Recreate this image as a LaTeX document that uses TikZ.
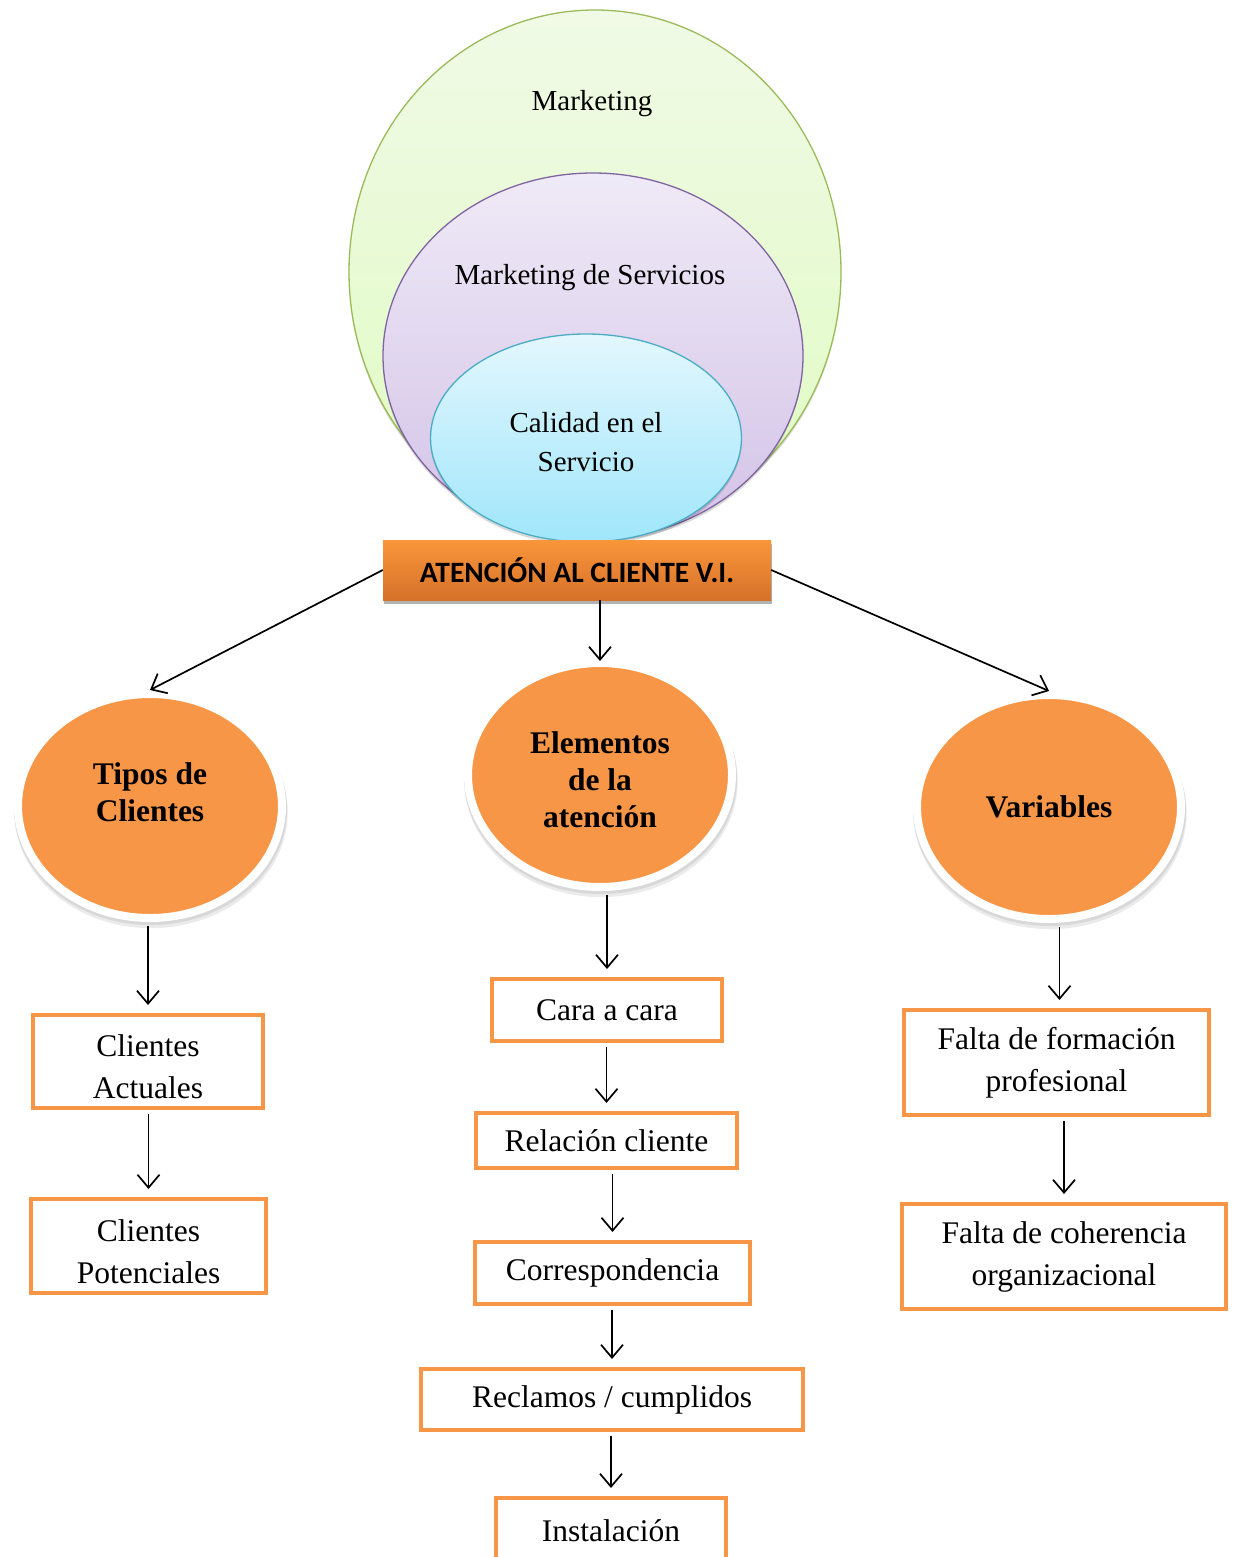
\documentclass[tikz,border=0pt]{standalone}
\usepackage{fontspec}
\setmainfont{Liberation Serif}
\newfontfamily\barfont{Carlito}
\usetikzlibrary{arrows.meta,shapes.geometric,shadows}

\definecolor{accent}{HTML}{F79646}
\definecolor{grnline}{HTML}{9BBB59}
\definecolor{grntop}{HTML}{F0FAE6}
\definecolor{grnbot}{HTML}{E0FBC2}
\definecolor{purline}{HTML}{8064A2}
\definecolor{purtop}{HTML}{EFEAF7}
\definecolor{purbot}{HTML}{D3C2E7}
\definecolor{cyaline}{HTML}{4BACC6}
\definecolor{cyatop}{HTML}{E3F7FD}
\definecolor{cyabot}{HTML}{A0E6FB}
\definecolor{bartop}{HTML}{F9963A}
\definecolor{barbot}{HTML}{D6712A}

\begin{document}
\begin{tikzpicture}[x=1pt,y=-1pt,
  arr/.style={line width=1.7pt,
    -{Straight Barb[length=13pt,width=22pt,line width=1.7pt]},
    shorten <=4pt, shorten >=8pt},
  box/.style={draw=accent, line width=4pt, fill=white, inner sep=0pt,
    align=center, font=\fontsize{31.5}{42}\selectfont},
  bubble/.style={ellipse, draw=white, line width=8pt, fill=accent,
    minimum width=264pt, minimum height=224pt, inner sep=0pt,
    align=center, font=\fontsize{31.5}{37}\selectfont\bfseries,
    double copy shadow={shadow scale=1.035, shadow xshift=0.5pt, shadow yshift=-3pt,
      opacity=0.08, fill=black, draw=none}},
  ring/.style={ellipse, inner sep=0pt, line width=1.3pt,
    drop shadow={shadow xshift=0pt, shadow yshift=-3pt, opacity=0.15, fill=black}},
  toptext/.style={font=\fontsize{29}{39}\selectfont, align=center, inner sep=0pt}]

\useasboundingbox (0,0) rectangle (1237,1557);
\clip (0,0) rectangle (1237,1557);
\fill[white] (0,0) rectangle (1237,1557);

% nested concept ellipses
\node[ring, draw=grnline, top color=grntop, bottom color=grnbot,
  minimum width=492pt, minimum height=524pt] (mkt) at (595,272) {};
\node[ring, draw=purline, top color=purtop, bottom color=purbot,
  minimum width=420pt, minimum height=366pt] (mks) at (593,356) {};
\node[ring, draw=cyaline, top color=cyatop, bottom color=cyabot,
  minimum width=311pt, minimum height=208pt, toptext, text height=67pt,
  text depth=0pt] (cal) at (586,438) {Calidad en el\\Servicio};
\node[toptext] (tmkt) at (592,104) {Marketing};
\node[toptext] (tmks) at (590,278) {Marketing de Servicios};

% central banner
\node[top color=bartop, bottom color=barbot, minimum width=388pt,
  minimum height=60pt, inner sep=0pt,
  font=\barfont\bfseries\fontsize{29.5}{34}\selectfont,
  drop shadow={shadow xshift=1pt, shadow yshift=-4pt, opacity=0.3, fill=black}]
  (bar) at (577,570) {ATENCIÓN AL CLIENTE V.I.};

% three branches
\node[bubble, text height=104pt, text depth=0pt] (tip) at (150,806) {Tipos de\\Clientes\\\mbox{}};
\node[bubble, text height=104pt, text depth=0pt] (ele) at (600,775) {Elementos\\de la\\atención};
\node[bubble] (var) at (1049,807) {Variables};

% leaf boxes
\node[box, minimum width=230pt, minimum height=93pt, text height=74pt, text depth=0pt]
  (ca) at (148,1061.5) {Clientes\\Actuales};
\node[box, minimum width=235pt, minimum height=94pt, text height=74pt, text depth=0pt]
  (cp) at (148.5,1246) {Clientes\\Potenciales};

\node[box, minimum width=230pt, minimum height=62pt] (cara) at (607,1010) {Cara a cara};
\node[box, minimum width=261pt, minimum height=55pt] (rel) at (606.5,1140.5) {Relación cliente};
\node[box, minimum width=275pt, minimum height=62pt] (corr) at (612.5,1273) {Correspondencia};
\node[box, minimum width=382pt, minimum height=61pt] (recl) at (612,1399.5) {Reclamos / cumplidos};
\node[box, minimum width=230pt, minimum height=66pt] (inst) at (611,1531) {Instalación};

\node[box, minimum width=305pt, minimum height=105pt] (ff) at (1056.5,1062.5) {Falta de formación\\profesional};
\node[box, minimum width=324pt, minimum height=105pt] (fc) at (1064,1256.5) {Falta de coherencia\\organizacional};

% connectors
\draw[arr, shorten <=0pt, shorten >=0pt] (bar.west) -- (tip.north);
\draw[arr, shorten <=0pt, shorten >=0pt] (bar.east) -- (var.north);
\draw[arr, shorten <=0pt, shorten >=-2pt] (bar.south -| ele.north) -- (ele.north);

\draw[arr] (tip.south -| ca.north) -- (ca.north);
\draw[arr] (ca.south -| cp.north) -- (cp.north);

\draw[arr] (ele.south -| cara.north) -- (cara.north);
\draw[arr] (cara.south -| rel.north) -- (rel.north);
\draw[arr] (rel.south -| corr.north) -- (corr.north);
\draw[arr] (corr.south -| recl.north) -- (recl.north);
\draw[arr] (recl.south -| inst.north) -- (inst.north);

\draw[arr] ([xshift=3pt]var.south -| ff.north) -- ([xshift=3pt]ff.north);
\draw[arr] (ff.south -| fc.north) -- (fc.north);
\end{tikzpicture}
\end{document}
